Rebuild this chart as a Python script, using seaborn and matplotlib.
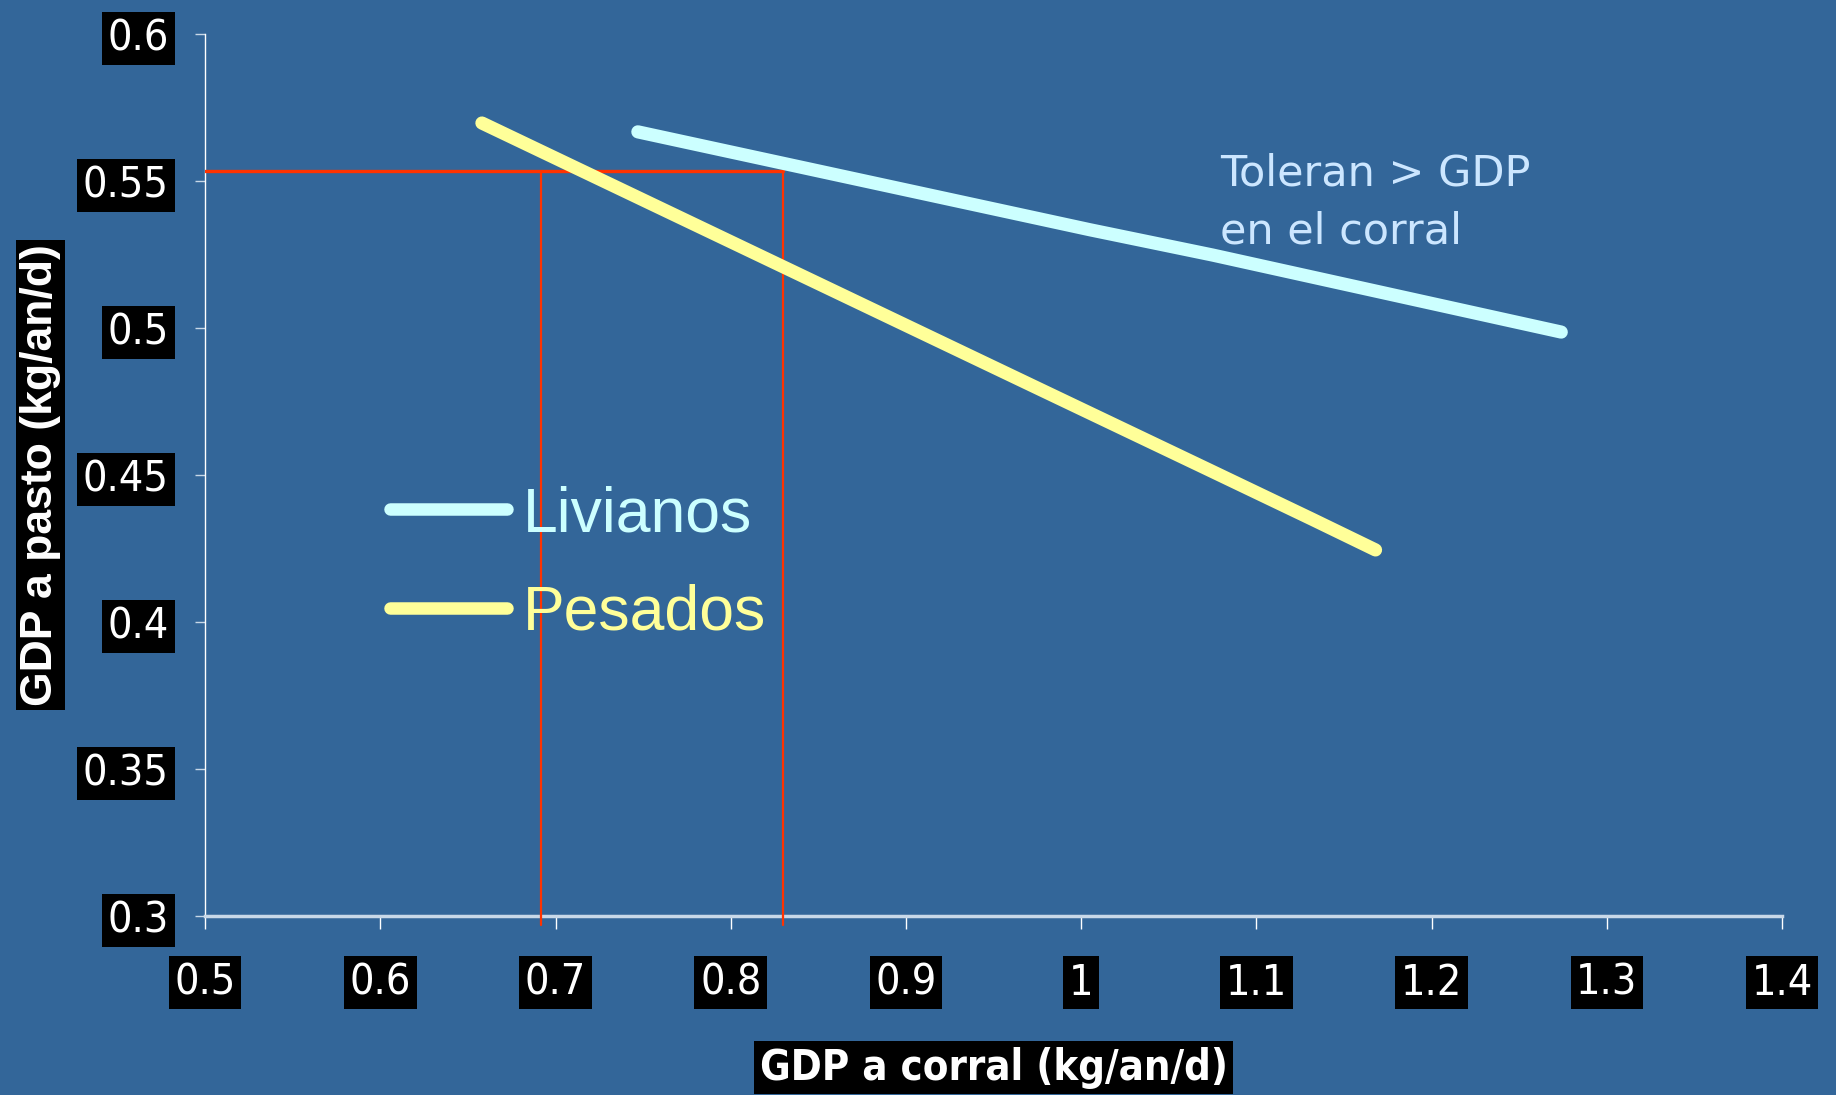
import matplotlib
matplotlib.use("Agg")
import matplotlib.pyplot as plt
from matplotlib.lines import Line2D
import seaborn as sns
import pandas as pd

# data
liv_x = [0.747, 1.005, 1.075, 1.274]
liv_y = [0.5667, 0.5334, 0.5248, 0.4986]
pes_x = [0.658, 0.978, 1.072, 1.132, 1.168]
pes_y = [0.5697, 0.4787, 0.4520, 0.4349, 0.4245]
groups = ["Livianos", "Pesados"]
colors = ["#ccffff", "#ffff99"]

ref_y = 0.5534
ref_x = [0.692, 0.8296]

xticks = [0.5, 0.6, 0.7, 0.8, 0.9, 1.0, 1.1, 1.2, 1.3, 1.4]
xlabels = ["0.5", "0.6", "0.7", "0.8", "0.9", "1", "1.1", "1.2", "1.3", "1.4"]
yticks = [0.3, 0.35, 0.4, 0.45, 0.5, 0.55, 0.6]
ylabels = ["0.3", "0.35", "0.4", "0.45", "0.5", "0.55", "0.6"]

df = pd.concat([
    pd.DataFrame({"corral": liv_x, "pasto": liv_y, "grupo": groups[0]}),
    pd.DataFrame({"corral": pes_x, "pasto": pes_y, "grupo": groups[1]}),
])

bg = "#336699"
sns.set_style("white")
plt.rcParams["font.family"] = ["Liberation Sans", "DejaVu Sans"]

fig = plt.figure(figsize=(18.36, 10.95), dpi=100, facecolor=bg)
ax = fig.add_axes([0.1117, 0.1635, 0.8589, 0.8055])
ax.set_facecolor(bg)

# red reference lines
ax.plot([0.5, ref_x[1]], [ref_y, ref_y], color="#ff3300", lw=2.4, zorder=3)
for xv in ref_x:
    ax.plot([xv, xv], [0.297, ref_y], color="#ff3300", lw=1.6, zorder=3, clip_on=False)

sns.lineplot(data=df, x="corral", y="pasto", hue="grupo", palette=colors,
             sort=False, estimator=None, linewidth=9.5, solid_capstyle="round",
             legend=False, ax=ax, zorder=4)

ax.set_xlim(0.5, 1.4)
ax.set_ylim(0.3, 0.6)
ax.set_xticks(xticks)
ax.set_xticklabels(xlabels)
ax.set_yticks(yticks)
ax.set_yticklabels(ylabels)

for s in ["top", "right"]:
    ax.spines[s].set_visible(False)
ax.spines["left"].set_color("white")
ax.spines["left"].set_linewidth(1)
ax.spines["bottom"].set_color("#c8d8e8")
ax.spines["bottom"].set_linewidth(2.5)

ax.tick_params(axis="y", direction="out", length=7, width=1, color="#c8d8e8",
               pad=19, left=True)
ax.tick_params(axis="x", direction="out", length=9, width=1, color="white",
               pad=24, bottom=True)
for lab in ax.get_xticklabels() + ax.get_yticklabels():
    lab.set_family("DejaVu Sans")
    lab.set_stretch("condensed")
    lab.set_fontsize(31)
    lab.set_color("white")
    lab.set_bbox(dict(facecolor="black", edgecolor="none", pad=4))

ax.set_xlabel("GDP a corral (kg/an/d)", fontsize=30, fontweight="bold",
              color="white", family="DejaVu Sans", fontstretch="condensed",
              va="center", bbox=dict(facecolor="black", edgecolor="none", pad=4))
ax.xaxis.set_label_coords(0.5, -0.172)
ax.set_ylabel("GDP a pasto (kg/an/d)", fontsize=32, fontweight="bold",
              color="white", va="center",
              bbox=dict(facecolor="black", edgecolor="none", pad=3))
ax.yaxis.set_label_coords(-0.1046, 0.5)

handles = [Line2D([], [], color=c, lw=9, solid_capstyle="round") for c in colors]
leg = ax.legend(handles, groups, loc="center left",
                bbox_to_anchor=(390 / 1836, 1 - 564 / 1095),
                bbox_transform=fig.transFigure, frameon=False, fontsize=45,
                handlelength=1.87, handletextpad=0.25, labelspacing=0.64,
                borderpad=0, borderaxespad=0, labelcolor="linecolor")

fig.text(1220 / 1836, 1 - 153 / 1095, "Toleran > GDP\nen el corral",
         family=["DejaVu Sans"], fontsize=31, color="#cce6ff",
         ha="left", va="top", linespacing=1.46)

fig.savefig("out.png", dpi=100, facecolor=bg)
